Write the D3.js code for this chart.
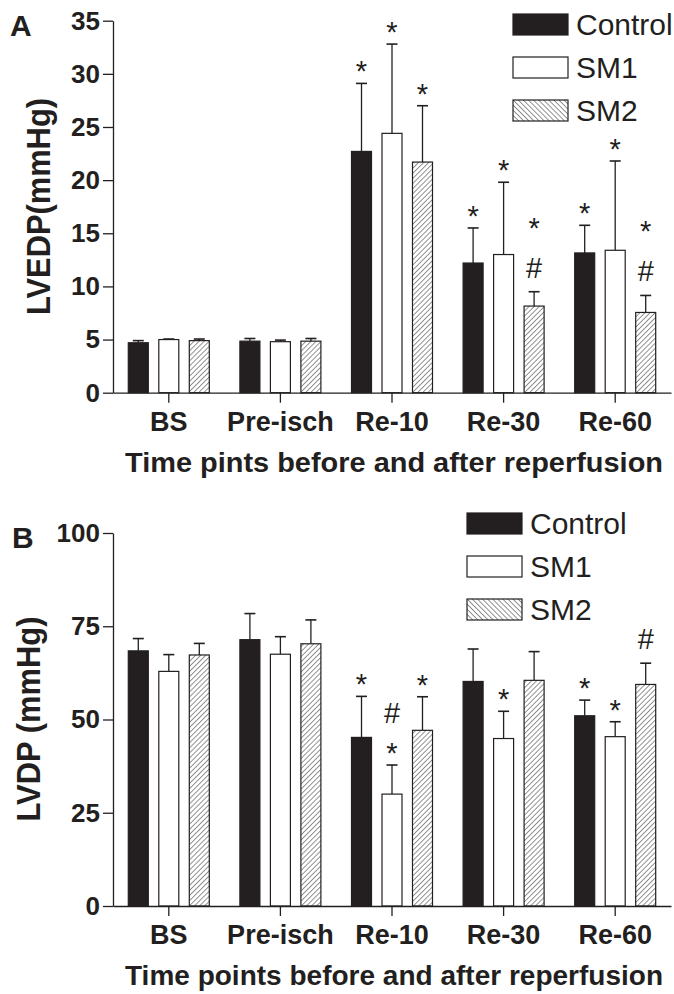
<!DOCTYPE html>
<html>
<head>
<meta charset="utf-8">
<script src="https://cdn.jsdelivr.net/npm/d3@7"></script>
<style>
  body { margin: 0; background: #fff; }
  svg { display: block; font-family: "Liberation Sans", Arial, sans-serif; }
</style>
</head>
<body>
<div id="chart"></div>
<script>
// categories and series
var groups = ["BS", "Pre-isch", "Re-10", "Re-30", "Re-60"];
var seriesNames = ["Control", "SM1", "SM2"];

// panel A: LVEDP (mmHg), mean and upper error
var lvedpControl = [4.7, 4.85, 22.7, 12.2, 13.15];
var lvedpControlErr = [0.2, 0.25, 6.4, 3.3, 2.6];
var lvedpSM1 = [5.0, 4.8, 24.4, 13.0, 13.4];
var lvedpSM1Err = [0.05, 0.15, 8.4, 6.8, 8.4];
var lvedpSM2 = [4.9, 4.85, 21.7, 8.15, 7.55];
var lvedpSM2Err = [0.15, 0.25, 5.3, 1.35, 1.6];
// significance marks, listed bottom to top
var lvedpControlMarks = [[], [], ["*"], ["*"], ["*"]];
var lvedpSM1Marks = [[], [], ["*"], ["*"], ["*"]];
var lvedpSM2Marks = [[], [], ["*"], ["#", "*"], ["#", "*"]];
var lvedpTicks = [0, 5, 10, 15, 20, 25, 30, 35];

// panel B: LVDP (mmHg)
var lvdpControl = [68.4, 71.4, 45.2, 60.2, 51.0];
var lvdpControlErr = [3.3, 7.0, 11.0, 8.7, 4.2];
var lvdpSM1 = [62.9, 67.5, 30.0, 44.9, 45.4];
var lvdpSM1Err = [4.5, 4.7, 7.8, 7.3, 4.0];
var lvdpSM2 = [67.3, 70.3, 47.1, 60.5, 59.4];
var lvdpSM2Err = [3.1, 6.4, 9.0, 7.7, 5.7];
var lvdpControlMarks = [[], [], ["*"], [], ["*"]];
var lvdpSM1Marks = [[], [], ["*", "#"], ["*"], ["*"]];
var lvdpSM2Marks = [[], [], ["*"], [], ["#"]];
var lvdpTicks = [0, 25, 50, 75, 100];

var ink = "#231f20";

var svg = d3.select("#chart").append("svg")
  .attr("width", 674).attr("height", 994);

var defs = svg.append("defs");
function hatch(id, angle) {
  var p = defs.append("pattern")
    .attr("id", id)
    .attr("patternUnits", "userSpaceOnUse")
    .attr("width", 3.6).attr("height", 3.6)
    .attr("patternTransform", "rotate(" + angle + ")");
  p.append("rect").attr("width", 3.6).attr("height", 3.6).attr("fill", "#fff");
  p.append("line").attr("x1", 0).attr("y1", 0).attr("x2", 0).attr("y2", 3.6)
    .attr("stroke", "#4a4a4a").attr("stroke-width", 1.2);
}
hatch("hatchBar", 45);
hatch("hatchKey", -45);

var fills = { Control: ink, SM1: "#fff", SM2: "url(#hatchBar)" };
var keyFills = { Control: ink, SM1: "#fff", SM2: "url(#hatchKey)" };

function buildTable(vals, errs, marks) {
  var rows = [];
  groups.forEach(function (g, i) {
    seriesNames.forEach(function (s, j) {
      rows.push({ group: g, series: s, value: vals[j][i], err: errs[j][i], marks: marks[j][i] });
    });
  });
  return rows;
}

function drawPanel(opt) {
  var x = d3.scaleBand().domain(groups).range([113, 671]);
  var xs = d3.scalePoint().domain(seriesNames).range([-30.5, 30.5]);
  var y = d3.scaleLinear().domain(opt.domain).range([opt.bottom, opt.top]);
  var barW = 20;
  var data = buildTable(opt.values, opt.errs, opt.marks);

  var g = svg.append("g");

  // error bars (upper only)
  var eb = g.selectAll(".err").data(data).enter().append("g");
  eb.append("line")
    .attr("x1", function (d) { return x(d.group) + x.bandwidth() / 2 + xs(d.series); })
    .attr("x2", function (d) { return x(d.group) + x.bandwidth() / 2 + xs(d.series); })
    .attr("y1", function (d) { return y(d.value); })
    .attr("y2", function (d) { return y(d.value + d.err); })
    .attr("stroke", ink).attr("stroke-width", 1.3);
  eb.append("line")
    .attr("x1", function (d) { return x(d.group) + x.bandwidth() / 2 + xs(d.series) - 5.5; })
    .attr("x2", function (d) { return x(d.group) + x.bandwidth() / 2 + xs(d.series) + 5.5; })
    .attr("y1", function (d) { return y(d.value + d.err); })
    .attr("y2", function (d) { return y(d.value + d.err); })
    .attr("stroke", ink).attr("stroke-width", 1.6);

  // bars
  g.selectAll(".bar").data(data).enter().append("rect")
    .attr("x", function (d) { return x(d.group) + x.bandwidth() / 2 + xs(d.series) - barW / 2; })
    .attr("y", function (d) { return y(d.value); })
    .attr("width", barW)
    .attr("height", function (d) { return y(0) - y(d.value); })
    .attr("fill", function (d) { return fills[d.series]; })
    .attr("stroke", ink).attr("stroke-width", 1.2);

  // significance marks
  data.forEach(function (d) {
    var cx = x(d.group) + x.bandwidth() / 2 + xs(d.series);
    var base = y(d.value + d.err);
    d.marks.forEach(function (m, k) {
      var by = base - (d.marks[0] == "#" ? 14 : 2) - k * 40;
      g.append("text")
        .attr("x", cx).attr("y", by)
        .attr("text-anchor", "middle")
        .style("font-size", "29px")
        .attr("fill", ink)
        .text(m);
    });
  });

  // axes
  var yAxis = d3.axisLeft(y).tickValues(opt.ticks).tickSize(10).tickPadding(3).tickSizeOuter(0);
  var ya = g.append("g").attr("transform", "translate(113,0)").call(yAxis);
  ya.select(".domain").attr("stroke", ink).attr("stroke-width", 1.3);
  ya.selectAll(".tick line").attr("stroke", ink).attr("stroke-width", 1.3);
  ya.selectAll(".tick text")
    .attr("fill", ink)
    .style("font-size", "26px").style("font-weight", "bold").style("font-family", "Liberation Sans, Arial, sans-serif");

  var xAxis = d3.axisBottom(x).tickSize(10).tickSizeOuter(0);
  var xa = g.append("g").attr("transform", "translate(0," + y(0) + ")").call(xAxis);
  xa.select(".domain").attr("stroke", ink).attr("stroke-width", 1.3);
  xa.selectAll(".tick line").attr("stroke", ink).attr("stroke-width", 1.3);
  xa.selectAll(".tick text")
    .attr("y", 38).attr("dy", 0)
    .attr("fill", ink)
    .style("font-size", "27px").style("font-weight", "bold").style("font-family", "Liberation Sans, Arial, sans-serif");

  // axis titles
  g.append("text")
    .attr("x", 394).attr("y", y(0) + 79)
    .attr("text-anchor", "middle")
    .attr("textLength", 538).attr("lengthAdjust", "spacingAndGlyphs")
    .style("font-size", "28px").style("font-weight", "bold")
    .attr("fill", ink)
    .text(opt.xTitle);

  g.append("text")
    .attr("transform", "translate(" + opt.yTitleX + "," + opt.yTitleY + ") rotate(-90)")
    .attr("text-anchor", "middle")
    .attr("textLength", opt.yTitleLen).attr("lengthAdjust", "spacingAndGlyphs")
    .style("font-size", "34px").style("font-weight", "bold")
    .attr("fill", ink)
    .text(opt.yTitle);

  // panel letter
  g.append("text")
    .attr("x", opt.letterX).attr("y", opt.letterY)
    .style("font-size", "30px").style("font-weight", "bold")
    .attr("fill", ink)
    .text(opt.letter);

  // legend
  var lg = g.append("g").attr("transform", "translate(" + opt.legendX + "," + opt.legendY + ")");
  seriesNames.forEach(function (s, i) {
    lg.append("rect")
      .attr("x", 0).attr("y", i * 43)
      .attr("width", 55).attr("height", 21)
      .attr("fill", keyFills[s]).attr("stroke", ink).attr("stroke-width", 1.2);
    lg.append("text")
      .attr("x", 63).attr("y", i * 43 + 21)
      .style("font-size", "30px")
      .attr("fill", ink)
      .text(s);
  });
}

drawPanel({
  values: [lvedpControl, lvedpSM1, lvedpSM2],
  errs: [lvedpControlErr, lvedpSM1Err, lvedpSM2Err],
  marks: [lvedpControlMarks, lvedpSM1Marks, lvedpSM2Marks],
  domain: [0, 35], ticks: lvedpTicks,
  bottom: 392.7, top: 20.7,
  xTitle: "Time pints before and after reperfusion",
  yTitle: "LVEDP(mmHg)", yTitleX: 50, yTitleY: 206.5, yTitleLen: 217,
  letter: "A", letterX: 10, letterY: 36,
  legendX: 513, legendY: 14
});

drawPanel({
  values: [lvdpControl, lvdpSM1, lvdpSM2],
  errs: [lvdpControlErr, lvdpSM1Err, lvdpSM2Err],
  marks: [lvdpControlMarks, lvdpSM1Marks, lvdpSM2Marks],
  domain: [0, 100], ticks: lvdpTicks,
  bottom: 906, top: 533,
  xTitle: "Time points before and after reperfusion",
  yTitle: "LVDP (mmHg)", yTitleX: 40, yTitleY: 719, yTitleLen: 205,
  letter: "B", letterX: 12, letterY: 548,
  legendX: 467, legendY: 513
});
</script>
</body>
</html>
